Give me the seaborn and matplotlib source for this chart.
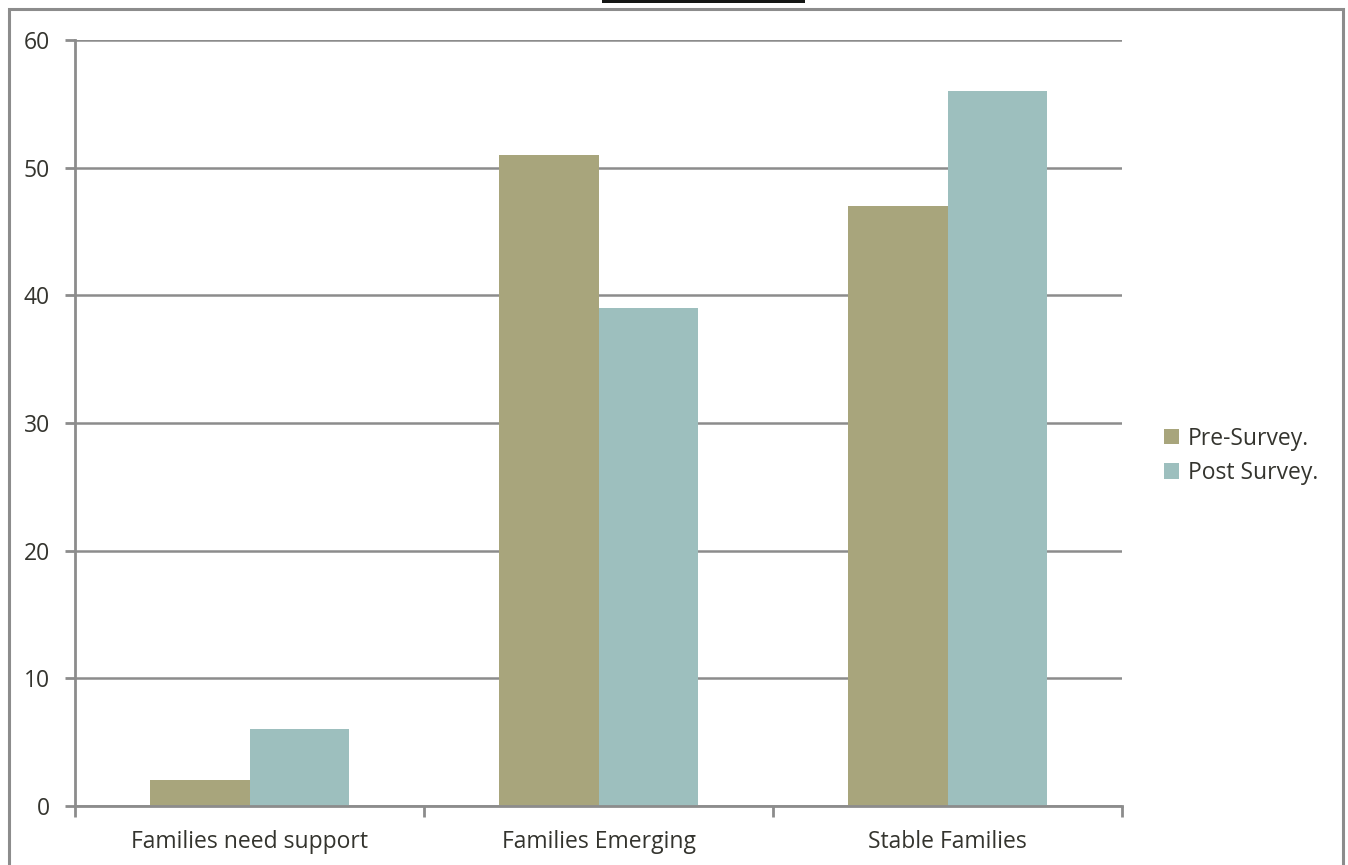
import matplotlib
matplotlib.use("Agg")
import matplotlib.pyplot as plt
import seaborn as sns
import pandas as pd
from matplotlib.patches import Rectangle

categories = ["Families need support", "Families Emerging", "Stable Families"]
series_names = ["Pre-Survey.", "Post Survey."]
pre_values = [2, 51, 47]
post_values = [6, 39, 56]
y_ticks = [0, 10, 20, 30, 40, 50, 60]
colors = ["#A8A57C", "#9DBFBE"]

df = pd.DataFrame({
    "category": categories * 2,
    "value": pre_values + post_values,
    "series": [series_names[0]] * 3 + [series_names[1]] * 3,
})

sns.set_theme(style="white")
plt.rcParams["font.family"] = ["Open Sans", "DejaVu Sans"]

W, H = 1348, 865
FS = 16.5
TXT = "#34342e"
fig = plt.figure(figsize=(W / 100, H / 100), dpi=100)
ax = fig.add_axes([75 / W, 1 - 806 / H, (1122 - 75) / W, (806 - 40) / H])

sns.barplot(data=df, x="category", y="value", hue="series", palette=colors,
            width=0.57, saturation=1, ax=ax, legend=True, edgecolor="none")

grid_color = "#8C8C8C"
ax.set_ylim(0, 60)
ax.set_xlim(-0.5, 2.5)
ax.set_yticks(y_ticks)
ax.set_yticklabels([str(t) for t in y_ticks], fontsize=FS, color=TXT)
ax.set_xticks(range(3))
ax.set_xticklabels(categories, fontsize=FS, color=TXT)
ax.set_xticks([-0.5, 0.5, 1.5, 2.5], minor=True)
ax.tick_params(axis="x", which="major", length=0, pad=17)
ax.tick_params(axis="x", which="minor", length=8, width=2, color=grid_color, direction="out", bottom=True)
ax.tick_params(axis="y", which="major", length=7, width=2, color=grid_color, direction="out", left=True, pad=11)
ax.yaxis.grid(True, color=grid_color, linewidth=1.8)
ax.set_axisbelow(True)
ax.set_xlabel("")
ax.set_ylabel("")
for side in ["top", "right"]:
    ax.spines[side].set_visible(False)
for side in ["left", "bottom"]:
    ax.spines[side].set_color(grid_color)
    ax.spines[side].set_linewidth(2)

leg = ax.legend(loc="center left", bbox_to_anchor=(1164 / W, 1 - 456 / H),
                bbox_transform=fig.transFigure, frameon=False, fontsize=FS,
                handlelength=0.65, handleheight=0.65, handletextpad=0.4,
                labelspacing=0.45, borderpad=0, borderaxespad=0)
for t in leg.get_texts():
    t.set_color(TXT)

# outer frame
fig.add_artist(Rectangle((9 / W, -0.05), (1343 - 9) / W, 1 - 9 / H + 0.05,
                         transform=fig.transFigure, fill=False,
                         edgecolor="#8C8C8C", linewidth=2.2))
# black bar at top
fig.add_artist(Rectangle((602 / W, 1 - 3 / H), (805 - 602) / W, 3 / H,
                         transform=fig.transFigure, facecolor="#141614",
                         edgecolor="none"))

fig.savefig("out.png", dpi=100)
